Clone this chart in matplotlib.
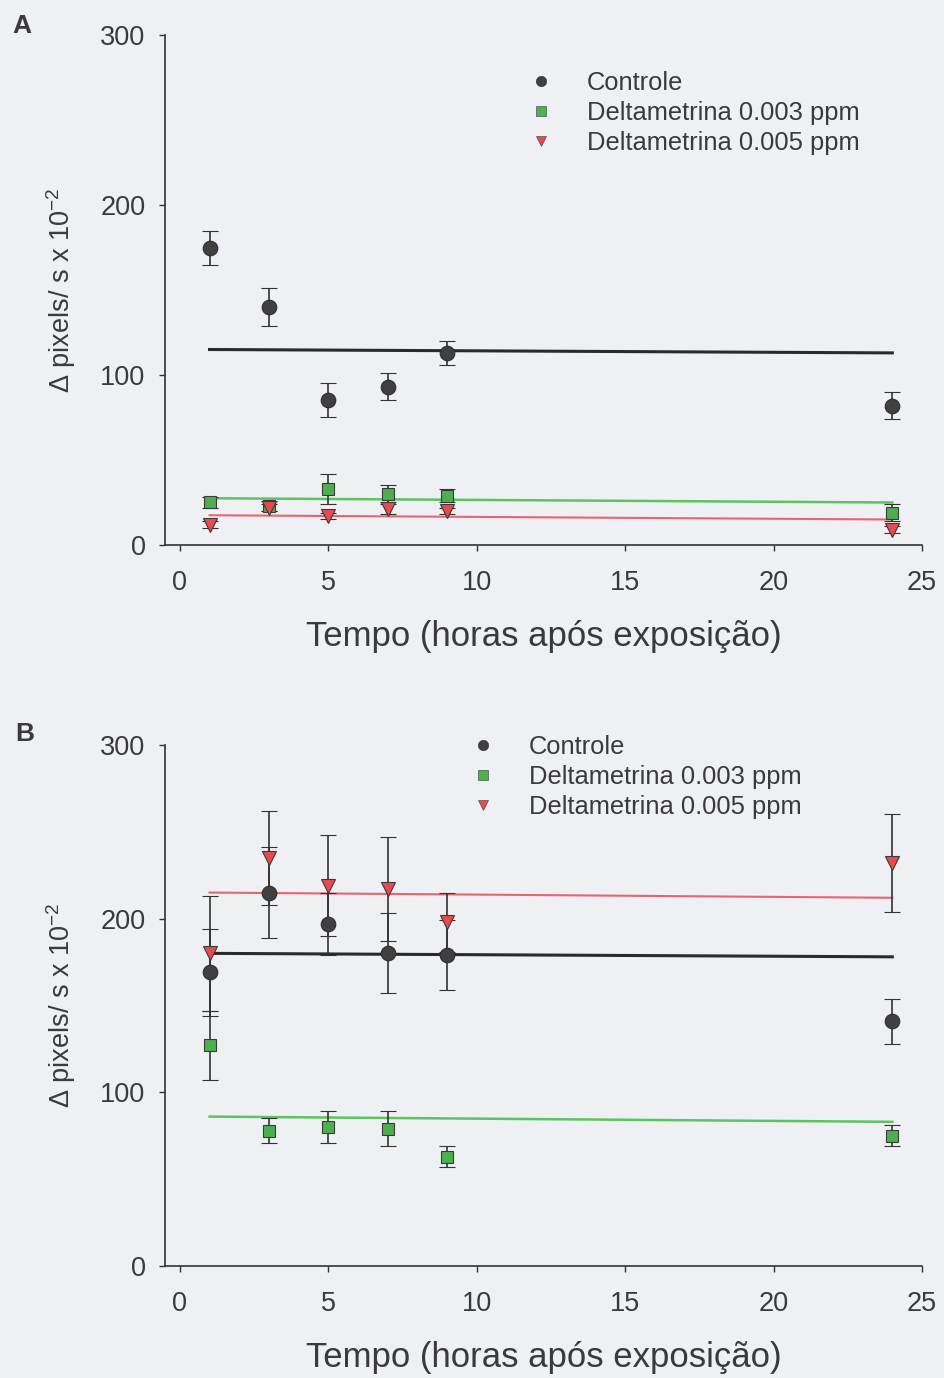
import matplotlib
matplotlib.use("Agg")
import matplotlib.pyplot as plt
from matplotlib.lines import Line2D
import numpy as np

plt.rcParams['font.family'] = ['Liberation Sans', 'DejaVu Sans']
plt.rcParams['mathtext.fontset'] = 'custom'
plt.rcParams['mathtext.rm'] = 'Liberation Sans'
plt.rcParams['mathtext.default'] = 'regular'

# horas apos exposicao
tempo = [1, 3, 5, 7, 9, 24]

# painel A
a_ctrl = [175, 140, 85, 93, 113, 82]
a_ctrl_err = [10, 11, 10, 8, 7, 8]
a_d003 = [25, 23, 33, 30, 29, 19]
a_d003_err = [3, 3, 9, 5, 4, 5]
a_d005 = [12, 22, 17, 21, 20, 9]
a_d005_err = [2, 2, 2, 3, 2, 2]
# linhas ajustadas (inicio em t=1, fim em t=24)
a_fit_ctrl = [115, 113]
a_fit_d003 = [27.5, 25]
a_fit_d005 = [17.5, 15]

# painel B
b_ctrl = [169, 215, 197, 180, 179, 141]
b_ctrl_err = [25, 26, 18, 23, 20, 13]
b_d003 = [127, 78, 80, 79, 63, 75]
b_d003_err = [20, 7, 9, 10, 6, 6]
b_d005 = [180, 235, 219, 217, 198, 232]
b_d005_err = [33, 27, 29, 30, 17, 28]
b_fit_ctrl = [180, 178]
b_fit_d003 = [86, 83]
b_fit_d005 = [215, 212]

labels = ['Controle', 'Deltametrina 0.003 ppm', 'Deltametrina 0.005 ppm']
fit_x = [tempo[0], tempo[-1]]

bg = '#eef0f3'
txt = '#3a3a3a'
ink = '#333333'
styles = [('o', '#404040', '#2e2e2e', 10.5),
          ('s', '#4caf50', '#3a3a3a', 9.0),
          ('v', '#e84a4f', '#3a3a3a', 10.5)]

fig = plt.figure(figsize=(9.44, 13.78), dpi=100, facecolor=bg)
axA = fig.add_axes([0.1748, 0.6045, 0.8019, 0.3701])
axB = fig.add_axes([0.1748, 0.0813, 0.8019, 0.3781])


def draw_panel(ax, ctrl, ctrl_err, d3, d3_err, d5, d5_err, f_ctrl, f_d3, f_d5, leg_xy):
    ax.set_facecolor(bg)
    ax.plot(fit_x, f_ctrl, color='#2a2a2a', lw=2.2, zorder=2)
    ax.plot(fit_x, f_d3, color='#5cc45e', lw=1.8, zorder=2)
    ax.plot(fit_x, f_d5, color='#e8646f', lw=1.5, zorder=2)
    ekw = dict(ecolor=ink, elinewidth=1.2, capsize=5.5, capthick=1.2, ls='none', zorder=3)
    series = [(ctrl, ctrl_err), (d3, d3_err), (d5, d5_err)]
    for (vals, errs), (mk, fc, ec, ms) in zip(series, styles):
        ax.errorbar(tempo, vals, yerr=errs, marker=mk, ms=ms, mfc=fc,
                    mec=ec, mew=0.8, **ekw)

    ax.set_xlim(-0.5, 25)
    ax.set_ylim(0, 300)
    ax.set_xticks([0, 5, 10, 15, 20, 25])
    ax.set_yticks([0, 100, 200, 300])
    for s in ['top', 'right']:
        ax.spines[s].set_visible(False)
    for s in ['left', 'bottom']:
        ax.spines[s].set_color(ink)
        ax.spines[s].set_linewidth(1.2)
    ax.tick_params(axis='both', direction='out', length=4, width=1.0,
                   color=ink, labelcolor=txt, labelsize=19.5)
    ax.tick_params(axis='y', pad=10)
    ax.tick_params(axis='x', pad=14)
    ax.set_xlabel('Tempo (horas após exposição)', fontsize=25, color=txt, labelpad=17)
    ax.set_ylabel('Δ pixels/ s x 10$^{-2}$', fontsize=19.5, color=txt, labelpad=16)

    handles = [Line2D([], [], ls='none', marker=mk, ms=7.5, mfc=fc, mec=ec, mew=0.4)
               for mk, fc, ec, ms in styles]
    leg = ax.legend(handles, labels, loc='upper left', bbox_to_anchor=leg_xy,
                    frameon=False, fontsize=18.4, handlelength=1.0,
                    handletextpad=1.3, labelspacing=0.24, borderpad=0,
                    borderaxespad=0)
    for t in leg.get_texts():
        t.set_color(txt)


draw_panel(axA, a_ctrl, a_ctrl_err, a_d003, a_d003_err, a_d005, a_d005_err,
           a_fit_ctrl, a_fit_d003, a_fit_d005, (0.48, 0.93))
draw_panel(axB, b_ctrl, b_ctrl_err, b_d003, b_d003_err, b_d005, b_d005_err,
           b_fit_ctrl, b_fit_d003, b_fit_d005, (0.403, 1.02))

fig.text(12 / 944, 1 - 33 / 1378, 'A', fontsize=19, fontweight='bold', color=txt)
fig.text(15 / 944, 1 - 741 / 1378, 'B', fontsize=19, fontweight='bold', color=txt)

fig.savefig('out.png', dpi=100, facecolor=bg)
